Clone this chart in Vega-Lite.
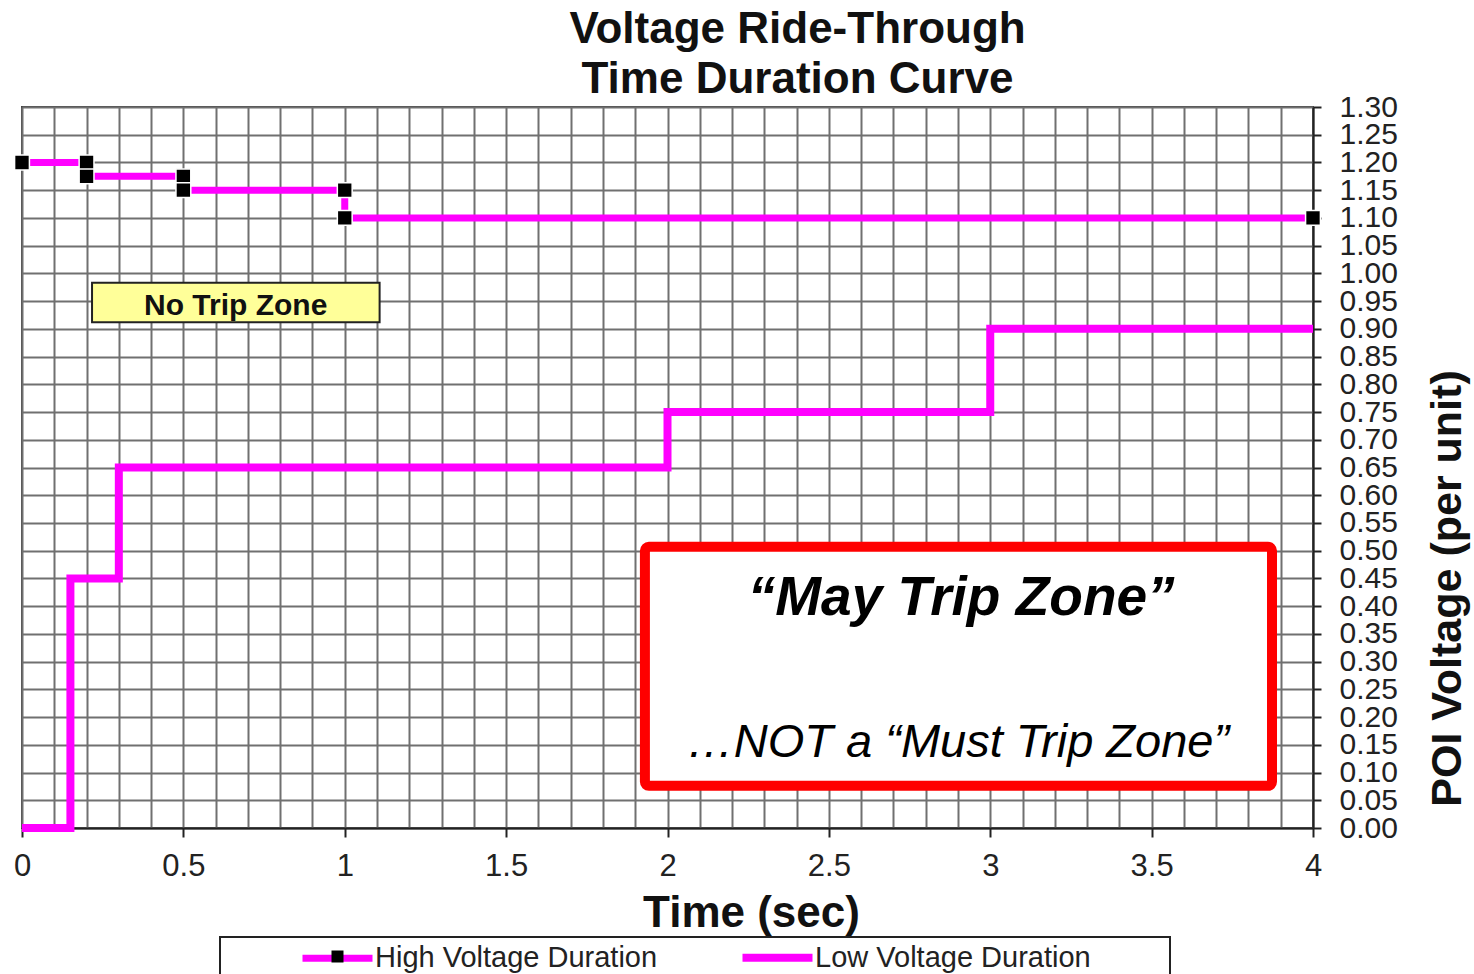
{
  "$schema": "https://vega.github.io/schema/vega-lite/v6.json",
  "width": 1291,
  "height": 721,
  "autosize": {"type": "none"},
  "padding": {"left": 22, "top": 107, "right": 161, "bottom": 146},
  "background": "white",
  "config": {"view": {"stroke": "#444", "strokeWidth": 2}, "font": "Liberation Sans", "legend": {"strokeWidth": 2}},
  "title": {
    "text": ["Voltage Ride-Through", "Time Duration Curve"],
    "fontSize": 44, "fontWeight": "bold", "font": "Liberation Sans", "color": "#111",
    "anchor": "middle", "dx": 130, "offset": -10, "lineHeight": 50
  },
  "datasets": {
    "curves": [
      {"series": "High Voltage Duration", "i": 0, "t": 0, "v": 1.2},
      {"series": "High Voltage Duration", "i": 1, "t": 0.2, "v": 1.2},
      {"series": "High Voltage Duration", "i": 2, "t": 0.2, "v": 1.175},
      {"series": "High Voltage Duration", "i": 3, "t": 0.5, "v": 1.175},
      {"series": "High Voltage Duration", "i": 4, "t": 0.5, "v": 1.15},
      {"series": "High Voltage Duration", "i": 5, "t": 1, "v": 1.15},
      {"series": "High Voltage Duration", "i": 6, "t": 1, "v": 1.1},
      {"series": "High Voltage Duration", "i": 7, "t": 4, "v": 1.1},
      {"series": "Low Voltage Duration", "i": 0, "t": 0, "v": 0},
      {"series": "Low Voltage Duration", "i": 1, "t": 0.15, "v": 0},
      {"series": "Low Voltage Duration", "i": 2, "t": 0.15, "v": 0.45},
      {"series": "Low Voltage Duration", "i": 3, "t": 0.3, "v": 0.45},
      {"series": "Low Voltage Duration", "i": 4, "t": 0.3, "v": 0.65},
      {"series": "Low Voltage Duration", "i": 5, "t": 2, "v": 0.65},
      {"series": "Low Voltage Duration", "i": 6, "t": 2, "v": 0.75},
      {"series": "Low Voltage Duration", "i": 7, "t": 3, "v": 0.75},
      {"series": "Low Voltage Duration", "i": 8, "t": 3, "v": 0.9},
      {"series": "Low Voltage Duration", "i": 9, "t": 4, "v": 0.9}
    ],
    "markers": [
      {"marker": "High Voltage Duration", "t": 0, "v": 1.2},
      {"marker": "High Voltage Duration", "t": 0.2, "v": 1.2},
      {"marker": "High Voltage Duration", "t": 0.2, "v": 1.175},
      {"marker": "High Voltage Duration", "t": 0.5, "v": 1.175},
      {"marker": "High Voltage Duration", "t": 0.5, "v": 1.15},
      {"marker": "High Voltage Duration", "t": 1, "v": 1.15},
      {"marker": "High Voltage Duration", "t": 1, "v": 1.1},
      {"marker": "High Voltage Duration", "t": 4, "v": 1.1}
    ],
    "noTripBox": [{"ta": 0.217, "tb": 1.108, "va": 0.912, "vb": 0.983}],
    "noTripText": [{"t": 0.662, "v": 0.942, "label": "No Trip Zone"}],
    "mayTripBox": [{"ta": 1.93, "tb": 3.873, "va": 0.076, "vb": 0.507}],
    "mayTripTitle": [{"t": 2.91, "v": 0.415, "label": "“May Trip Zone”"}],
    "mayTripNote": [{"t": 2.90, "v": 0.153, "label": "…NOT a “Must Trip Zone”"}]
  },
  "layer": [
    {
      "data": {"name": "curves"},
      "mark": {"type": "line", "clip": false, "strokeCap": "butt", "strokeJoin": "miter"},
      "encoding": {
        "x": {
          "field": "t", "type": "quantitative",
          "scale": {"domain": [0, 4], "nice": false, "zero": false},
          "axis": {
            "title": "Time (sec)", "titleFontSize": 44, "titleFontWeight": "bold", "titleColor": "#111",
            "titlePadding": 10, "titleX": 729, "titleAlign": "center",
            "tickCount": 200,
            "values": [0, 0.1, 0.2, 0.3, 0.4, 0.5, 0.6, 0.7, 0.8, 0.9, 1, 1.1, 1.2, 1.3, 1.4, 1.5, 1.6, 1.7, 1.8, 1.9, 2, 2.1, 2.2, 2.3, 2.4, 2.5, 2.6, 2.7, 2.8, 2.9, 3, 3.1, 3.2, 3.3, 3.4, 3.5, 3.6, 3.7, 3.8, 3.9, 4],
            "labelExpr": "indexof(['0','0.5','1','1.5','2','2.5','3','3.5','4'], datum.label) >= 0 ? datum.label : ''",
            "format": "~g",
            "labelFontSize": 31, "labelColor": "#222", "labelPadding": 14, "labelOverlap": false,
            "labelFlush": false,
            "grid": true, "gridColor": "#707070", "gridWidth": 2,
            "domainColor": "#222", "domainWidth": 2,
            "tickColor": "#222", "tickWidth": 2, "tickSize": 9,
            "tickOpacity": {"condition": {"test": "indexof([0, 0.5, 1, 1.5, 2, 2.5, 3, 3.5, 4], datum.value) >= 0", "value": 1}, "value": 0}
          }
        },
        "y": {
          "field": "v", "type": "quantitative",
          "scale": {"domain": [0, 1.3], "nice": false, "zero": false},
          "axis": {
            "orient": "right",
            "title": "POI Voltage (per unit)", "titleFontSize": 43, "titleFontWeight": "bold", "titleColor": "#111",
            "titleAngle": 270, "titleX": 134, "titleY": 481, "titleAlign": "center", "titleBaseline": "middle",
            "tickCount": 200,
            "values": [0, 0.05, 0.1, 0.15, 0.2, 0.25, 0.3, 0.35, 0.4, 0.45, 0.5, 0.55, 0.6, 0.65, 0.7, 0.75, 0.8, 0.85, 0.9, 0.95, 1, 1.05, 1.1, 1.15, 1.2, 1.25, 1.3],
            "format": ".2f", "labelFontSize": 30, "labelColor": "#222", "labelPadding": 18, "labelOverlap": false,
            "labelFlush": false,
            "grid": true, "gridColor": "#707070", "gridWidth": 2,
            "domainColor": "#222", "domainWidth": 2,
            "tickColor": "#222", "tickWidth": 2, "tickSize": 8
          }
        },
        "order": {"field": "i", "type": "quantitative"},
        "color": {
          "field": "series", "type": "nominal",
          "scale": {"domain": ["High Voltage Duration", "Low Voltage Duration"], "range": ["#ff00ff", "#ff00ff"]},
          "legend": {
            "orient": "none", "legendX": 198, "legendY": 830, "direction": "horizontal",
            "title": " ", "titleOrient": "right", "titlePadding": 73, "titleFontSize": 10,
            "strokeColor": "#222", "padding": 6,
            "symbolType": "M-5,0H5", "symbolSize": 196, "symbolStrokeWidth": 8, "symbolOffset": 97,
            "labelFontSize": 29, "labelFont": "Liberation Sans", "labelColor": "#222", "labelLimit": 500,
            "columnPadding": 8, "labelOffset": 23
          }
        },
        "strokeWidth": {
          "field": "series", "type": "nominal",
          "scale": {"domain": ["High Voltage Duration", "Low Voltage Duration"], "range": [7, 8]},
          "legend": null
        }
      }
    },
    {
      "data": {"name": "noTripBox"},
      "mark": {"type": "rect", "fill": "#ffff99", "stroke": "#222", "strokeWidth": 2},
      "encoding": {
        "x": {"field": "ta", "type": "quantitative"},
        "x2": {"field": "tb"},
        "y": {"field": "va", "type": "quantitative"},
        "y2": {"field": "vb"}
      }
    },
    {
      "data": {"name": "noTripText"},
      "mark": {"type": "text", "fontSize": 30, "fontWeight": "bold", "font": "Liberation Sans", "color": "#111", "align": "center", "baseline": "middle"},
      "encoding": {
        "x": {"field": "t", "type": "quantitative"},
        "y": {"field": "v", "type": "quantitative"},
        "text": {"field": "label"}
      }
    },
    {
      "data": {"name": "mayTripBox"},
      "mark": {"type": "rect", "fill": "white", "stroke": "#ff0000", "strokeWidth": 10, "cornerRadius": 4},
      "encoding": {
        "x": {"field": "ta", "type": "quantitative"},
        "x2": {"field": "tb"},
        "y": {"field": "va", "type": "quantitative"},
        "y2": {"field": "vb"}
      }
    },
    {
      "data": {"name": "mayTripTitle"},
      "mark": {"type": "text", "fontSize": 55, "fontWeight": "bold", "fontStyle": "italic", "font": "Liberation Sans", "color": "#000", "align": "center", "baseline": "middle"},
      "encoding": {
        "x": {"field": "t", "type": "quantitative"},
        "y": {"field": "v", "type": "quantitative"},
        "text": {"field": "label"}
      }
    },
    {
      "data": {"name": "mayTripNote"},
      "mark": {"type": "text", "fontSize": 47, "fontStyle": "italic", "font": "Liberation Sans", "color": "#000", "align": "center", "baseline": "middle"},
      "encoding": {
        "x": {"field": "t", "type": "quantitative"},
        "y": {"field": "v", "type": "quantitative"},
        "text": {"field": "label"}
      }
    },
    {
      "data": {"name": "markers"},
      "mark": {"type": "point", "filled": true, "fill": "#000", "stroke": "#fff", "strokeWidth": 1.5, "size": 220, "opacity": 1, "clip": false},
      "encoding": {
        "x": {"field": "t", "type": "quantitative"},
        "y": {"field": "v", "type": "quantitative"},
        "shape": {
          "field": "marker", "type": "nominal",
          "scale": {"domain": ["High Voltage Duration"], "range": ["square"]},
          "legend": {
            "orient": "none", "legendX": 309, "legendY": 843, "title": null,
            "padding": 0, "symbolSize": 144, "symbolFillColor": "#000", "symbolStrokeColor": "#fff",
            "symbolStrokeWidth": 1, "symbolOpacity": 1, "labelExpr": "''", "labelFontSize": 1
          }
        }
      }
    }
  ]
}
